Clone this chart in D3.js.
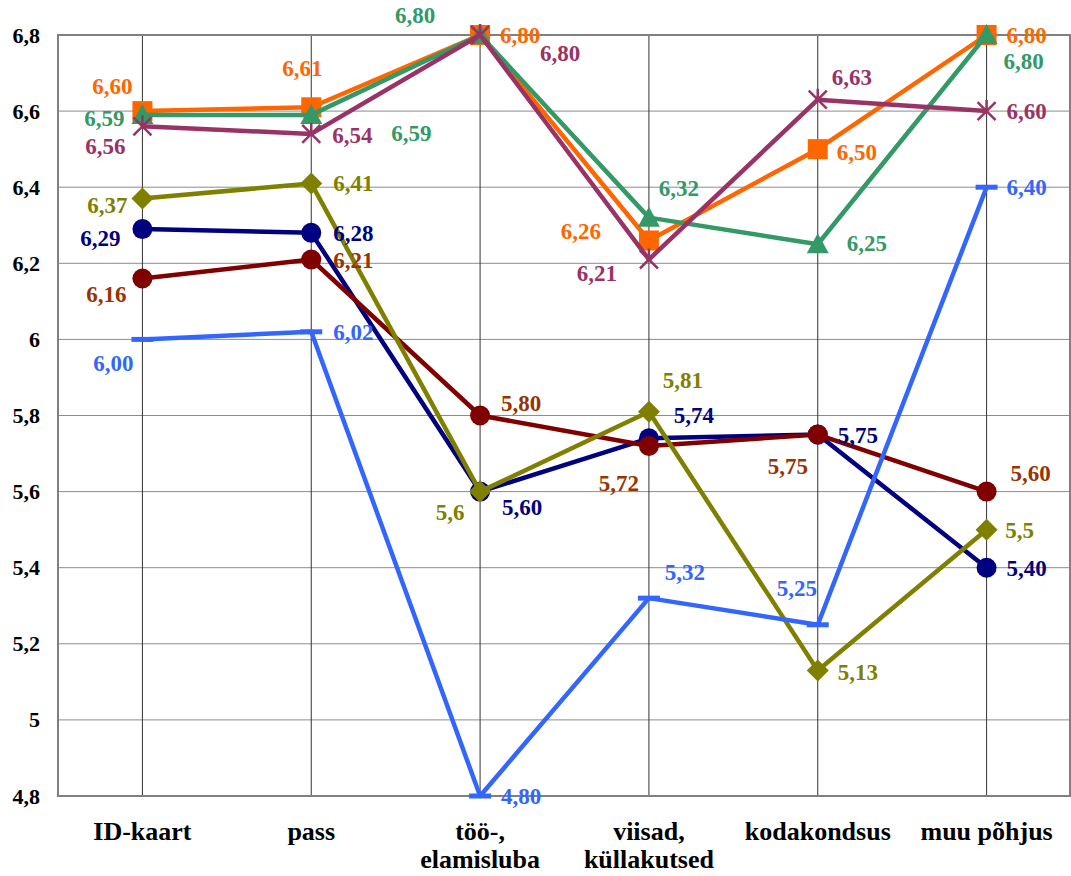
<!DOCTYPE html>
<html>
<head>
<meta charset="utf-8">
<script src="https://cdn.jsdelivr.net/npm/d3@7"></script>
<style>
  html, body { margin: 0; padding: 0; background: #fff; }
  svg { display: block; }
</style>
</head>
<body>
<svg id="chart" width="1071" height="876"></svg>
<script>
// Categories (x axis) and y-axis ticks
const categories = [["ID-kaart"], ["pass"], ["töö-,", "elamisluba"], ["viisad,", "küllakutsed"], ["kodakondsus"], ["muu põhjus"]];
const yTicks = [4.8, 5.0, 5.2, 5.4, 5.6, 5.8, 6.0, 6.2, 6.4, 6.6, 6.8];
const yTickLabels = ["4,8", "5", "5,2", "5,4", "5,6", "5,8", "6", "6,2", "6,4", "6,6", "6,8"];

// Series values, one per category
const navyValues   = [6.29, 6.28, 5.60, 5.74, 5.75, 5.40];
const redValues    = [6.16, 6.21, 5.80, 5.72, 5.75, 5.60];
const oliveValues  = [6.37, 6.41, 5.6, 5.81, 5.13, 5.5];
const orangeValues = [6.60, 6.61, 6.80, 6.26, 6.50, 6.80];
const greenValues  = [6.59, 6.59, 6.80, 6.32, 6.25, 6.80];
const purpleValues = [6.56, 6.54, 6.80, 6.21, 6.63, 6.60];
const blueValues   = [6.00, 6.02, 4.80, 5.32, 5.25, 6.40];

// Decimals shown in each value label
const oliveDecimals = [2, 2, 1, 2, 2, 1];

// Label placement relative to each point (dx, dy)
const navyLabelPos   = [[-42, 9], [42, 0], [42, 15], [45, -23], [40, 0], [40, 0]];
const redLabelPos    = [[-36, 15], [42, 0], [41, -13], [-30, 37], [-30, 31], [44, -19]];
const oliveLabelPos  = [[-35, 6], [42, 0], [-30, 20], [34, -32], [40, 2], [33, 0]];
const orangeLabelPos = [[-30, -25], [-9, -39], [40, 0], [-68, -10], [39, 3], [40, 0]];
const greenLabelPos  = [[-38, 3], [100, 18], [-65, -20], [30, -30], [49, -1], [37, 26]];
const purpleLabelPos = [[-37, 20], [41, 1], [80, 18], [-52, 13], [34, -23], [40, 0]];
const blueLabelPos   = [[-29, 24], [42, 0], [41, 0], [36, -26], [-21, -37], [40, 0]];

const series = [
  { values: navyValues,   line: "#000080", label: "#000080", marker: "circle",   pos: navyLabelPos },
  { values: redValues,    line: "#800000", label: "#993300", marker: "circle",   pos: redLabelPos },
  { values: oliveValues,  line: "#808000", label: "#808000", marker: "diamond",  pos: oliveLabelPos, decimals: oliveDecimals },
  { values: orangeValues, line: "#FF6600", label: "#FF6600", marker: "square",   pos: orangeLabelPos },
  { values: greenValues,  line: "#339966", label: "#339966", marker: "triangle", pos: greenLabelPos },
  { values: purpleValues, line: "#993366", label: "#993366", marker: "star",     pos: purpleLabelPos },
  { values: blueValues,   line: "#3366FF", label: "#3366FF", marker: "dash",     pos: blueLabelPos }
];

const FONT = "'Liberation Serif'";

const svg = d3.select("#chart");
const margin = { left: 58, top: 35, right: 0, bottom: 80 };
const W = 1071;
const plotW = W - margin.left - margin.right;
const plotH = 796 - margin.top;

const x = d3.scaleBand().domain(d3.range(categories.length)).range([margin.left, margin.left + plotW]);
const y = d3.scaleLinear().domain([4.8, 6.8]).range([margin.top + plotH, margin.top]);
const cx = i => x(i) + x.bandwidth() / 2;

// Horizontal gridlines
svg.append("g").selectAll("line").data(yTicks).join("line")
  .attr("x1", margin.left).attr("x2", margin.left + plotW)
  .attr("y1", d => y(d)).attr("y2", d => y(d))
  .attr("stroke", "#8c8c8c").attr("stroke-width", 1);

// Vertical lines at category centres
svg.append("g").selectAll("line").data(d3.range(categories.length)).join("line")
  .attr("x1", cx).attr("x2", cx)
  .attr("y1", margin.top).attr("y2", margin.top + plotH)
  .attr("stroke", "#333").attr("stroke-width", 1);

// Plot frame
svg.append("rect")
  .attr("x", margin.left).attr("y", margin.top)
  .attr("width", plotW - 1).attr("height", plotH)
  .attr("fill", "none").attr("stroke", "#808080").attr("stroke-width", 2);

// Y axis labels
const yAxis = d3.axisLeft(y).tickValues(yTicks).tickSize(0).tickPadding(18)
  .tickFormat((d, i) => yTickLabels[i]);
const gy = svg.append("g").attr("transform", `translate(${margin.left},0)`).call(yAxis);
gy.select(".domain").remove();
gy.attr("font-family", null).attr("font-size", null);
gy.selectAll("text")
  .style("font-family", FONT)
  .style("font-weight", "bold").style("font-size", "22px").attr("fill", "#000");

// X axis labels
const xAxis = d3.axisBottom(x).tickSize(0).tickFormat(() => "");
const gx = svg.append("g").attr("transform", `translate(0,${margin.top + plotH})`).call(xAxis);
gx.select(".domain").remove();
gx.selectAll(".tick").each(function (d) {
  const t = d3.select(this).append("text")
    .attr("text-anchor", "middle").attr("fill", "#000")
    .style("font-size", "26px").style("font-weight", "bold")
    .style("font-family", FONT);
  categories[d].forEach((line, k) => {
    t.append("tspan").attr("x", 0).attr("y", 44 + k * 28).text(line);
  });
});

// Lines, markers and value labels
const lineGen = d3.line().x((d, i) => cx(i)).y(d => y(d));
const fmt = (v, dec) => v.toFixed(dec).replace(".", ",");

function drawMarker(g, type, color, px, py) {
  const s = 10;
  if (type === "circle") {
    g.append("circle").attr("cx", px).attr("cy", py).attr("r", s).attr("fill", color);
  } else if (type === "square") {
    g.append("rect").attr("x", px - s).attr("y", py - s).attr("width", 2 * s).attr("height", 2 * s).attr("fill", color);
  } else if (type === "diamond") {
    g.append("path").attr("d", `M${px},${py - 11}L${px + 11},${py}L${px},${py + 11}L${px - 11},${py}Z`).attr("fill", color);
  } else if (type === "triangle") {
    g.append("path").attr("d", `M${px},${py - 11}L${px + 11},${py + 9}L${px - 11},${py + 9}Z`).attr("fill", color);
  } else if (type === "star") {
    g.append("path")
      .attr("d", `M${px - 9},${py - 9}L${px + 9},${py + 9}M${px + 9},${py - 9}L${px - 9},${py + 9}M${px},${py - 11}L${px},${py}`)
      .attr("stroke", color).attr("stroke-width", 2.5).attr("fill", "none");
  } else if (type === "dash") {
    g.append("line").attr("x1", px - 11).attr("x2", px + 11).attr("y1", py).attr("y2", py)
      .attr("stroke", color).attr("stroke-width", 5);
  }
}

const gSeries = svg.append("g");
series.forEach(s => {
  const g = gSeries.append("g");
  g.append("path").datum(s.values).attr("d", lineGen)
    .attr("fill", "none").attr("stroke", s.line).attr("stroke-width", 4.5)
    .attr("stroke-linejoin", "round");
  s.values.forEach((v, i) => drawMarker(g, s.marker, s.line, cx(i), y(v)));
});

const gLabels = svg.append("g");
series.forEach(s => {
  s.values.forEach((v, i) => {
    const dec = s.decimals ? s.decimals[i] : 2;
    gLabels.append("text")
      .attr("x", cx(i) + s.pos[i][0]).attr("y", y(v) + s.pos[i][1])
      .attr("dy", "0.35em").attr("text-anchor", "middle")
      .style("font-family", FONT).style("font-weight", "bold").style("font-size", "23px")
      .attr("fill", s.label)
      .text(fmt(v, dec));
  });
});
</script>
</body>
</html>
